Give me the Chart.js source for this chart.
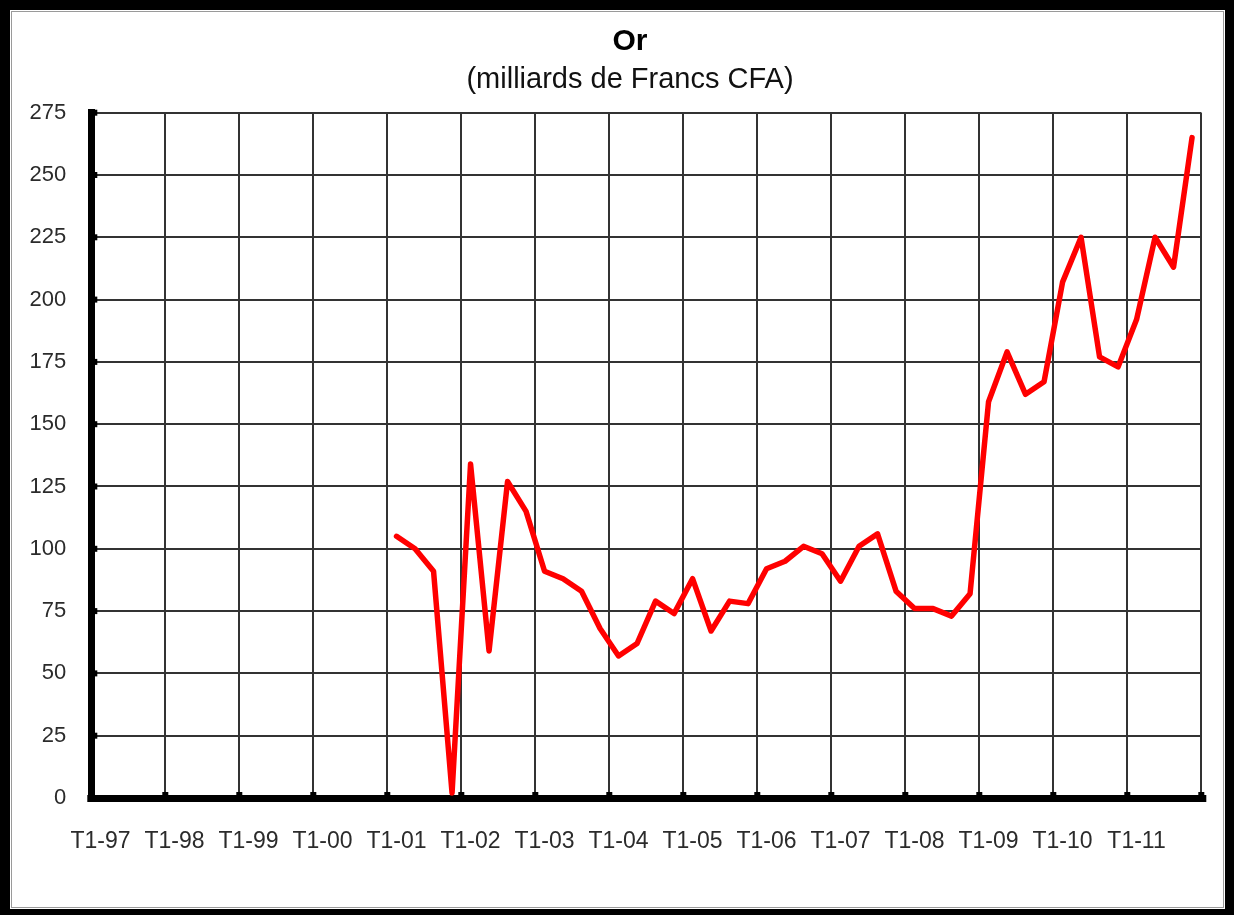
<!DOCTYPE html>
<html>
<head>
<meta charset="utf-8">
<title>Or (milliards de Francs CFA)</title>
<script src="https://cdn.jsdelivr.net/npm/chart.js@4.4.1/dist/chart.umd.min.js"></script>
<style>
  html, body { margin: 0; padding: 0; background: #fff; }
  #wrap { position: relative; width: 1234px; height: 915px; }
  canvas { display: block; }
</style>
</head>
<body>
<div id="wrap"><canvas id="chart" width="1234" height="915"></canvas></div>
<script>
// Années couvertes (trimestres T1 à T4 de chaque année)
const years = ['97', '98', '99', '00', '01', '02', '03', '04', '05', '06', '07', '08', '09', '10', '11'];
const quarterNames = ['T1', 'T2', 'T3', 'T4'];

// Valeur de l'or, en milliards de FCFA (pas de données avant 2001)
const orValues = [
  null, null, null, null,   // 1997
  null, null, null, null,   // 1998
  null, null, null, null,   // 1999
  null, null, null, null,   // 2000
  105, 100, 91, 2,          // 2001
  134, 59, 127, 115,        // 2002
  91, 88, 83, 68,           // 2003
  57, 62, 79, 74,           // 2004
  88, 67, 79, 78,           // 2005
  92, 95, 101, 98,          // 2006
  87, 101, 106, 83,         // 2007
  76, 76, 73, 82,           // 2008
  159, 179, 162, 167,       // 2009
  207, 225, 177, 173,       // 2010
  192, 225, 213, 265        // 2011
];

const yTicks = { min: 0, max: 275, step: 25 };
const chartTitle = 'Or';
const chartSubtitle = '(milliards de Francs CFA)';

const categories = [];
years.forEach(y => quarterNames.forEach(q => categories.push(q + '-' + y)));

const MAIN_FONT = '"Liberation Sans", Arial, sans-serif';
const GRID_COLOR = '#333333';
const LABEL_COLOR = '#2b2b2b';

// Cadre noir épais autour du graphique
const framePlugin = {
  id: 'frame',
  beforeDraw(chart) {
    const ctx = chart.ctx;
    const W = chart.width, H = chart.height;
    ctx.save();
    ctx.fillStyle = '#000';
    ctx.fillRect(0, 0, W, H);
    ctx.fillStyle = '#fff';
    ctx.fillRect(10, 10, W - 19, H - 16);
    ctx.strokeStyle = '#9a9a9a';
    ctx.lineWidth = 1;
    ctx.strokeRect(11.5, 11.5, W - 22, H - 19);
    ctx.restore();
  }
};

// Titre et sous-titre
const titlePlugin = {
  id: 'titles',
  afterDraw(chart) {
    const ctx = chart.ctx;
    ctx.save();
    ctx.textAlign = 'center';
    ctx.textBaseline = 'middle';
    ctx.fillStyle = '#000';
    ctx.font = 'bold 30px ' + MAIN_FONT;
    ctx.fillText(chartTitle, 630, 42);
    ctx.fillStyle = '#111';
    ctx.font = '29px ' + MAIN_FONT;
    ctx.fillText(chartSubtitle, 630, 80);
    ctx.restore();
  }
};

// Petites marques de graduation sur les axes
const tickMarkPlugin = {
  id: 'tickMarks',
  afterDatasetsDraw(chart) {
    const ctx = chart.ctx;
    const xs = chart.scales.x, ys = chart.scales.y;
    const area = chart.chartArea;
    const slot = xs.getPixelForTick(1) - xs.getPixelForTick(0);
    ctx.save();
    ctx.fillStyle = '#000';
    for (let i = 0; i <= categories.length; i += 4) {
      const px = i < categories.length ? xs.getPixelForTick(i) - slot / 2
                                       : xs.getPixelForTick(categories.length - 1) + slot / 2;
      ctx.fillRect(px - 3, area.bottom - 6, 6, 6);
    }
    for (let v = yTicks.min; v <= yTicks.max; v += yTicks.step) {
      const py = ys.getPixelForValue(v);
      ctx.fillRect(area.left, py - 3, 6, 6);
    }
    // prolongement de l'axe horizontal
    ctx.fillRect(area.left - 4, area.bottom - 3, 4, 7);
    ctx.fillRect(area.right, area.bottom - 3, 5, 7);
    ctx.restore();
  }
};

new Chart(document.getElementById('chart'), {
  type: 'line',
  data: {
    labels: categories,
    datasets: [{
      label: 'Or',
      data: orValues,
      borderColor: '#ff0000',
      backgroundColor: '#ff0000',
      borderWidth: 5.5,
      pointRadius: 0,
      pointHoverRadius: 0,
      tension: 0,
      borderJoinStyle: 'round',
      borderCapStyle: 'round',
      spanGaps: false
    }]
  },
  options: {
    responsive: false,
    animation: false,
    events: [],
    layout: { padding: { left: 0, right: 32.7, top: 112.7, bottom: 0 } },
    plugins: {
      legend: { display: false },
      title: { display: false },
      tooltip: { enabled: false }
    },
    scales: {
      x: {
        type: 'category',
        offset: true,
        afterFit(scale) { scale.height = 117; },
        grid: {
          offset: true,
          drawTicks: false,
          lineWidth: 2,
          color: ctx => (ctx.index === undefined || ctx.index % 4 === 0) ? GRID_COLOR : 'rgba(0,0,0,0)'
        },
        border: { display: true, color: '#000', width: 7 },
        ticks: {
          autoSkip: false,
          maxRotation: 0,
          minRotation: 0,
          padding: 30,
          color: LABEL_COLOR,
          font: { family: MAIN_FONT, size: 23 },
          callback(value, index) {
            return index % 4 === 0 ? this.getLabelForValue(value) : '';
          }
        }
      },
      y: {
        min: yTicks.min,
        max: yTicks.max,
        afterFit(scale) { scale.width = 91.3; },
        grid: { drawTicks: false, lineWidth: 2, color: GRID_COLOR },
        border: { display: true, color: '#000', width: 7 },
        ticks: {
          stepSize: yTicks.step,
          padding: 25,
          color: LABEL_COLOR,
          font: { family: MAIN_FONT, size: 22 }
        }
      }
    }
  },
  plugins: [framePlugin, titlePlugin, tickMarkPlugin]
});
</script>
</body>
</html>
